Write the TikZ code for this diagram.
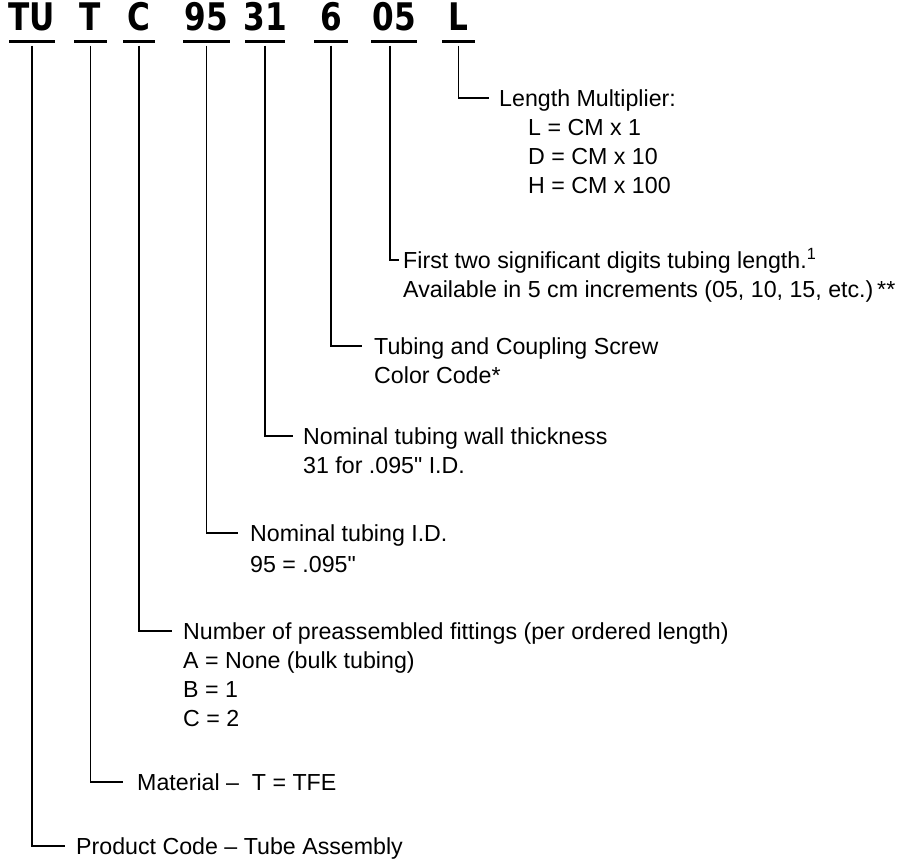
\documentclass[tikz,border=0pt]{standalone}
\usepackage{fontspec}
\newfontfamily\labelfont{Liberation Sans}
\newfontfamily\codefont[FakeStretch=0.82]{DejaVu Sans}
\usetikzlibrary{positioning}

\begin{document}
\begin{tikzpicture}[x=1pt, y=-1pt, every node/.style={inner sep=0pt},
  code/.style={font=\codefont\bfseries\fontsize{38}{38}\selectfont, anchor=base, inner ysep=11.5pt, text depth=0pt},
  title/.style={font=\labelfont\fontsize{23.2}{29}\selectfont, anchor=west, text height=16.6pt, text depth=0pt},
  sub/.style={font=\labelfont\fontsize{23.2}{29}\selectfont, align=left},
  uline/.style={line width=3pt},
  lead/.style={line width=1.2pt}]
  \useasboundingbox (0,0) rectangle (924,860);
  % part number
  \node[code] (cTU) at (32,30) {TU};
  \node[code] (cT) at (90.5,30) {T};
  \node[code] (cC) at (139,30) {C};
  \node[code] (c95) at (206.5,30) {95};
  \node[code] (c31) at (265,30) {31};
  \node[code] (c6) at (331,30) {6};
  \node[code] (c05) at (394,30) {05};
  \node[code] (cL) at (458.5,30) {L};
  \foreach \n/\w in {TU/46, T/33, C/32, 95/47, 31/40, 6/34, 05/46, L/33}
    \draw[uline] ([xshift=-\w/2]c\n.south) -- ([xshift=\w/2]c\n.south);
  % explanations
  \node[title] (lL) at (499,98) {Length Multiplier:};
  \node[sub, below right=12.4pt and 29pt of lL.south west] (lLb) {L = CM x 1\\D = CM x 10\\H = CM x 100};
  \node[title] (l05) at (403,260) {First two significant digits tubing length.\textsuperscript{1}};
  \node[sub, below right=12.4pt and 0pt of l05.south west] (l05b) {Available in 5 cm increments (05, 10, 15, etc.)\,**};
  \node[title] (l6) at (374,346) {Tubing and Coupling Screw};
  \node[sub, below right=12.4pt and 0pt of l6.south west] (l6b) {Color Code*};
  \node[title] (l31) at (303,436) {Nominal tubing wall thickness};
  \node[sub, below right=12.4pt and 0pt of l31.south west] (l31b) {31 for .095" I.D.};
  \node[title] (l95) at (250,533) {Nominal tubing I.D.};
  \node[sub, below right=14.5pt and 0pt of l95.south west] (l95b) {95 = .095"};
  \node[title] (lC) at (183,631) {Number of preassembled fittings (per ordered length)};
  \node[sub, below right=12.4pt and 0pt of lC.south west] (lCb) {A = None (bulk tubing)\\B = 1\\C = 2};
  \node[title] (lT) at (137,782) {Material – \ T = TFE};
  \node[title] (lTU) at (76,846) {Product Code – Tube Assembly};
  % leaders
  \draw[lead] ([yshift=-4pt]cL.south) |- ([xshift=-10pt]lL.west);
  \draw[lead] ([xshift=-4pt, yshift=-4pt]c05.south) |- ([xshift=-4pt]l05.west);
  \draw[lead] ([yshift=-4pt]c6.south) |- ([xshift=-12pt]l6.west);
  \draw[lead] ([yshift=-4pt]c31.south) |- ([xshift=-10pt]l31.west);
  \draw[lead] ([yshift=-4pt]c95.south) |- ([xshift=-12pt]l95.west);
  \draw[lead] ([yshift=-4pt]cC.south) |- ([xshift=-11pt]lC.west);
  \draw[lead] ([yshift=-4pt]cT.south) |- ([xshift=-14pt]lT.west);
  \draw[lead] ([yshift=-4pt]cTU.south) |- ([xshift=-11pt]lTU.west);
\end{tikzpicture}
\end{document}
